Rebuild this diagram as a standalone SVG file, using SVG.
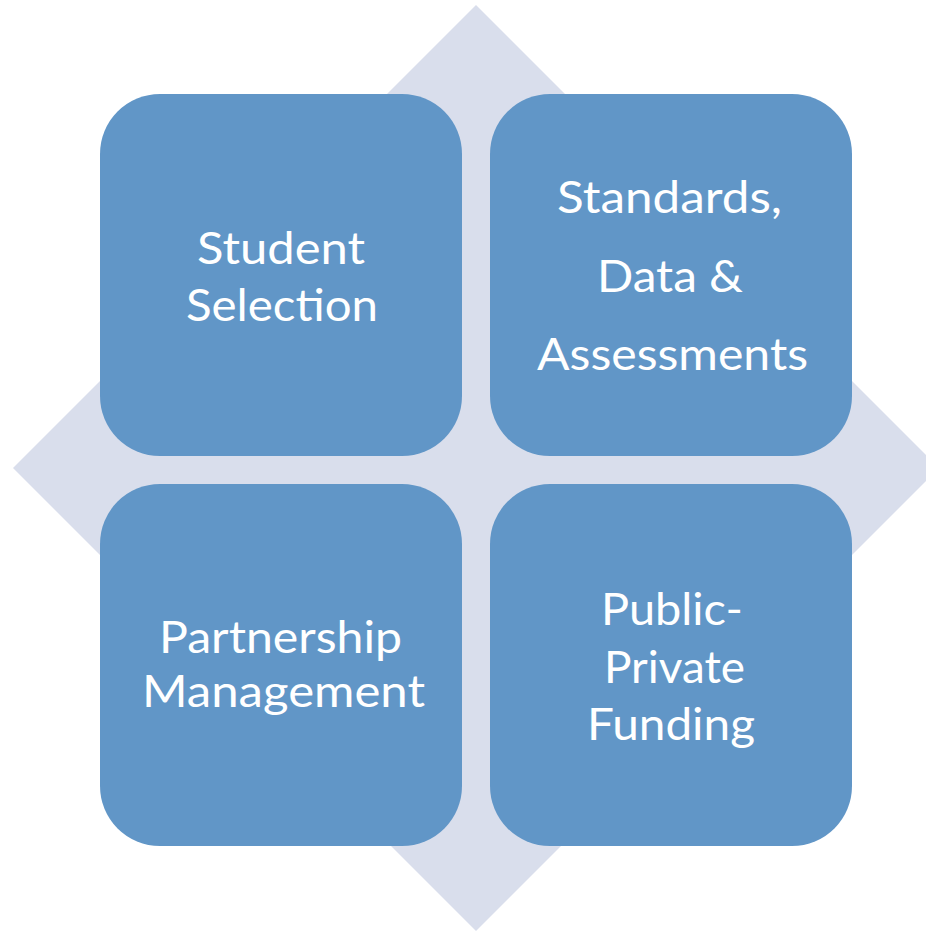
<svg xmlns="http://www.w3.org/2000/svg" width="926" height="931" viewBox="0 0 926 931">
<style>
.box{fill:#6196C7;}
.lbl{font-family:Lato,"Open Sans","Liberation Sans",sans-serif;font-size:45px;fill:#ffffff;}
</style>
<rect width="926" height="931" fill="#ffffff"/>
<g id="diamond"><polygon points="476,5 939,468 476,931 13,468" fill="#D9DEEC"/></g>
<g id="student-selection">
<rect class="box" x="100" y="94" width="362" height="362" rx="60" ry="60"/>
<text class="lbl" x="197" y="264" textLength="168" lengthAdjust="spacingAndGlyphs">Student</text>
<text class="lbl" x="186" y="321" textLength="192" lengthAdjust="spacingAndGlyphs">Selection</text>
</g>
<g id="standards-data-assessments">
<rect class="box" x="490" y="94" width="362" height="362" rx="60" ry="60"/>
<text class="lbl" x="557" y="213" textLength="225" lengthAdjust="spacingAndGlyphs">Standards,</text>
<text class="lbl" x="597" y="292" textLength="146" lengthAdjust="spacingAndGlyphs">Data &amp;</text>
<text class="lbl" x="537" y="370" textLength="271" lengthAdjust="spacingAndGlyphs">Assessments</text>
</g>
<g id="partnership-management">
<rect class="box" x="100" y="484" width="362" height="362" rx="60" ry="60"/>
<text class="lbl" x="159" y="653" textLength="243" lengthAdjust="spacingAndGlyphs">Partnership</text>
<text class="lbl" x="142" y="707" textLength="283" lengthAdjust="spacingAndGlyphs">Management</text>
</g>
<g id="public-private-funding">
<rect class="box" x="490" y="484" width="362" height="362" rx="60" ry="60"/>
<text class="lbl" x="601" y="625" textLength="142" lengthAdjust="spacingAndGlyphs">Public-</text>
<text class="lbl" x="604" y="683" textLength="141" lengthAdjust="spacingAndGlyphs">Private</text>
<text class="lbl" x="587" y="740" textLength="168" lengthAdjust="spacingAndGlyphs">Funding</text>
</g>
<g id="connectors"></g>
</svg>
